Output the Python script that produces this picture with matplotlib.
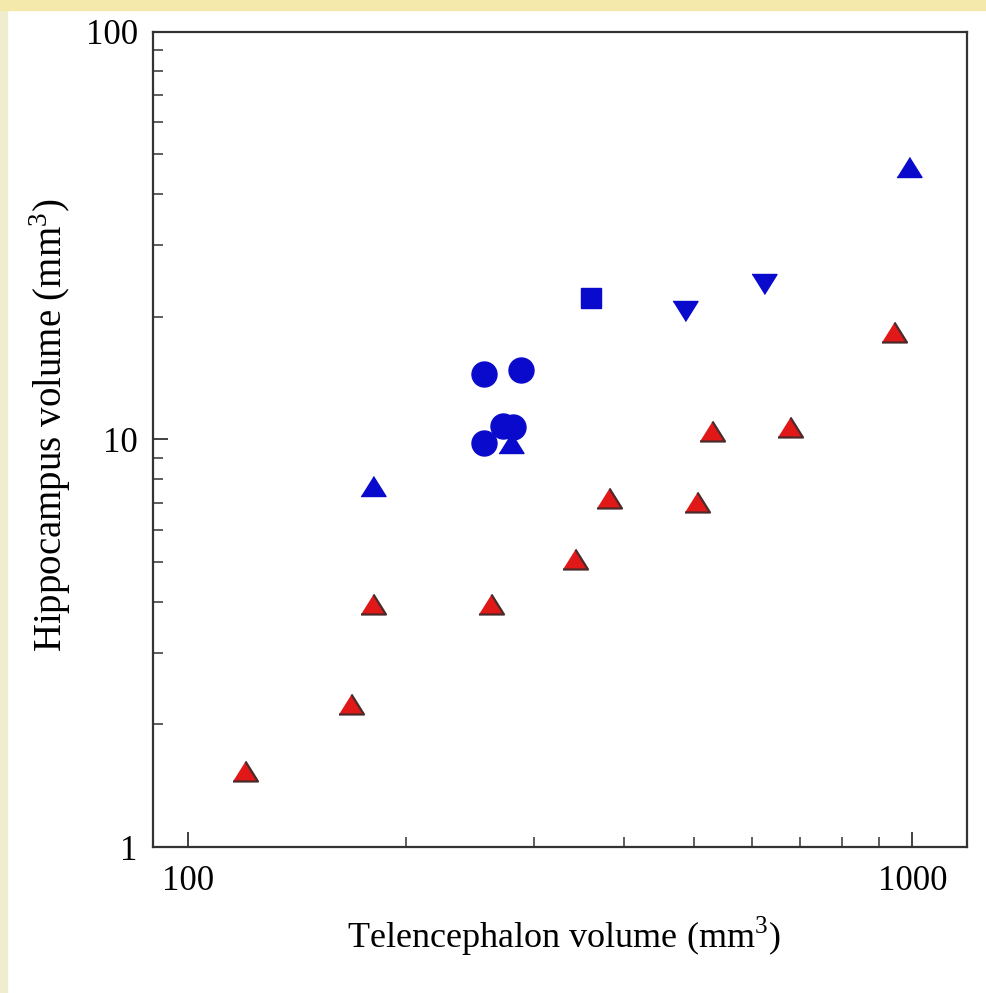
import numpy as np
import matplotlib
matplotlib.use('Agg')
import matplotlib.pyplot as plt
from matplotlib.patches import Rectangle
from matplotlib.ticker import FixedLocator, NullFormatter

# ======================== Data ========================
# blue circles
circ_x = [256, 288, 256, 272, 281]
circ_y = [14.5, 14.8, 9.8, 10.8, 10.7]
# blue up triangles
tri_x = [180, 279, 990]
tri_y = [7.7, 9.8, 46.7]
# blue square
sq_x = [360]
sq_y = [22.2]
# blue down triangles
dtri_x = [485, 625]
dtri_y = [20.6, 24.1]
# red triangles
red_x = [120, 168, 180, 262, 342, 381, 504, 529, 677, 945]
red_y = [1.54, 2.24, 3.94, 3.94, 5.08, 7.17, 7.01, 10.46, 10.7, 18.3]

x_ticks = [100, 1000]
y_ticks = [1, 10, 100]

plt.rcParams['font.family'] = ['Liberation Serif', 'DejaVu Serif']
plt.rcParams['mathtext.fontset'] = 'custom'
plt.rcParams['mathtext.rm'] = 'Liberation Serif'

blue = '#0a0acc'
up = [(-1, -0.8), (1, -0.8), (0, 0.8)]
down = [(-1, 0.8), (1, 0.8), (0, -0.8)]

fig = plt.figure(figsize=(9.87, 9.93), dpi=100)
fig.patch.set_facecolor('white')
# beige page border
fig.patches.append(Rectangle((0, 0), 0.007, 1, transform=fig.transFigure,
                             color='#f0edcf', zorder=0))
fig.patches.append(Rectangle((0, 0.99), 1, 0.01, transform=fig.transFigure,
                             color='#f5e8ab', zorder=0))

ax = fig.add_axes([0.155, 0.147, 0.825, 0.821])
ax.set_xscale('log')
ax.set_yscale('log')
ax.set_xlim(89.5, 1191)
ax.set_ylim(1, 100)

ax.plot(red_x, red_y, ls='none', marker=up, ms=18, mfc='#e01818',
        mec='#4a2a2a', mew=1.6)
ax.plot(circ_x, circ_y, ls='none', marker='o', ms=18, mfc=blue, mec=blue)
ax.plot(tri_x, tri_y, ls='none', marker=up, ms=18, mfc=blue, mec=blue)
ax.plot(sq_x, sq_y, ls='none', marker='s', ms=14, mfc=blue, mec=blue)
ax.plot(dtri_x, dtri_y, ls='none', marker=down, ms=18, mfc=blue, mec=blue)

# ticks
ax.xaxis.set_major_locator(FixedLocator(x_ticks))
ax.xaxis.set_minor_locator(FixedLocator(list(range(200, 1000, 100))))
ax.yaxis.set_major_locator(FixedLocator(y_ticks))
ax.yaxis.set_minor_locator(FixedLocator([v * d for d in (1, 10) for v in range(2, 10)]))
ax.xaxis.set_minor_formatter(NullFormatter())
ax.yaxis.set_minor_formatter(NullFormatter())
ax.set_xticklabels([str(v) for v in x_ticks])
ax.set_yticklabels([str(v) for v in y_ticks])
ax.tick_params(which='both', direction='in', top=False, right=False,
               labelsize=25, color='#333333')
ax.tick_params(which='major', length=11, width=1.3)
ax.tick_params(which='minor', length=7, width=1.1)
ax.tick_params(axis='x', which='major', pad=13)
ax.tick_params(axis='y', which='major', pad=11)

for s in ax.spines.values():
    s.set_linewidth(1.6)
    s.set_color('#333333')

ax.set_xlabel('Telencephalon volume (mm$^3$)', fontsize=26)
ax.set_ylabel('Hippocampus volume (mm$^3$)', fontsize=28)
ax.xaxis.set_label_coords(0.504, -0.110)
ax.xaxis.label.set_va('center')
ax.yaxis.set_label_coords(-0.1265, 0.517)
ax.yaxis.label.set_va('center')

fig.savefig('out.png', dpi=100)
